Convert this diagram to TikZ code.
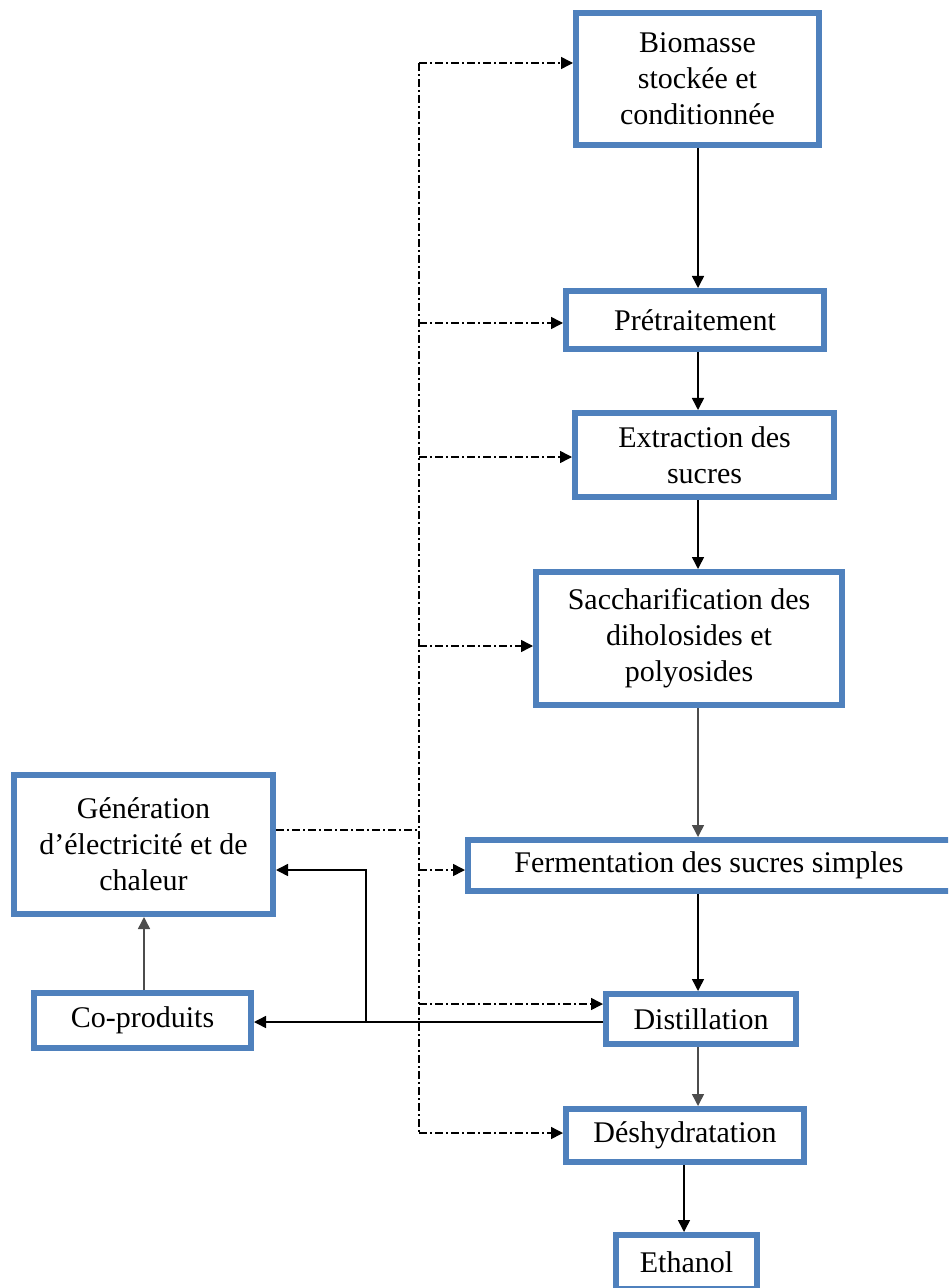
\documentclass[tikz,border=0pt]{standalone}
\usepackage{fontspec}
\setmainfont{Liberation Serif}
\usetikzlibrary{arrows.meta}
\definecolor{boxblue}{RGB}{79,129,189}
\begin{document}
\begin{tikzpicture}[x=0.5pt,y=-0.5pt,
  box/.style={draw=boxblue, line width=3pt, fill=white, inner sep=0pt, align=center,
    font=\fontsize{15}{18}\selectfont, text=black},
  arr/.style={line width=0.75pt, -{Triangle[length=6pt,width=6pt]}},
  garr/.style={arr, draw=black!70},
  dd/.style={line width=0.75pt, dash pattern=on 4pt off 1.5pt on 1pt off 1.5pt},
  ddarr/.style={dd, -{Triangle[length=6pt,width=6pt]}}]
\clip (0,0) rectangle (948,1288);
\fill[white] (0,0) rectangle (948,1288);

\node[box, minimum width=121.5pt, minimum height=66pt] (bio) at (697.5,79) {Biomasse\\stockée et\\conditionnée};
\node[box, minimum width=129pt, minimum height=29pt] (pre) at (695,320) {Prétraitement};
\node[box, minimum width=129.5pt, minimum height=42pt] (ext) at (704.5,455) {Extraction des\\sucres};
\node[box, minimum width=153pt, minimum height=66.5pt] (sac) at (689,638.5) {Saccharification des\\diholosides et\\polyosides};
\node[box, minimum width=129.5pt, minimum height=69.5pt] (gen) at (143.5,844.5) {Génération\\d’électricité et de\\chaleur};
\node[box, minimum width=108.5pt, minimum height=27.5pt] (cop) at (142.5,1020.5) {Co-produits};
\node[box, minimum width=260pt, minimum height=25.5pt] (fer) at (728,865.5) {Fermentation des sucres simples\hspace*{19pt}};
\node[box, minimum width=95pt, minimum height=25pt] (dis) at (701,1019) {Distillation};
\node[box, minimum width=119pt, minimum height=26.5pt] (des) at (685,1135.5) {Déshydratation};
\node[box, minimum width=70.5pt, minimum height=27pt] (eth) at (686.5,1262) {Ethanol};

% main chain
\coordinate (mx) at (698,0);
\draw[arr] (bio.south -| mx) -- (pre.north -| mx);
\draw[arr] (pre.south -| mx) -- (ext.north -| mx);
\draw[arr] (ext.south -| mx) -- (sac.north -| mx);
\draw[garr] (sac.south -| mx) -- (fer.north -| mx);
\draw[arr] (fer.south -| mx) -- (dis.north -| mx);
\draw[garr] (dis.south -| mx) -- (des.north -| mx);
\coordinate (ex) at (684,0);
\draw[arr] (des.south -| ex) -- (eth.north -| ex);

% dash-dot distribution
\coordinate (v1) at (419,63);
\coordinate (v2) at (419,323);
\coordinate (v3) at (419,457);
\coordinate (v4) at (419,646);
\coordinate (vg) at (419,830);
\coordinate (v5) at (419,870);
\coordinate (v6) at (419,1004);
\coordinate (v7) at (419,1133);
\draw[dd] (v1) -- (v7);
\draw[ddarr] (v1) -- (v1 -| bio.west);
\draw[ddarr] (v2) -- (v2 -| pre.west);
\draw[ddarr] (v3) -- (v3 -| ext.west);
\draw[ddarr] (v4) -- (v4 -| sac.west);
\draw[ddarr] (v5) -- (v5 -| fer.west);
\draw[ddarr] (v6) -- (v6 -| dis.west);
\draw[ddarr] (v7) -- (v7 -| des.west);
\draw[dd] (vg -| gen.east) -- (vg);

% co-products
\coordinate (j) at (366,1022);
\coordinate (k) at (366,870);
\draw[arr] (j -| dis.west) -- (j -| cop.east);
\draw[arr] (j) -- (k) -- (k -| gen.east);
\draw[garr] (cop.north -| 144,0) -- (gen.south -| 144,0);
\end{tikzpicture}
\end{document}
